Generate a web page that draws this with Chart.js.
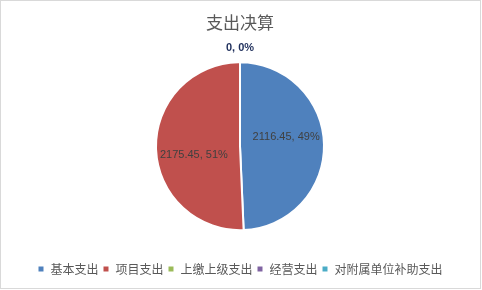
<!DOCTYPE html>
<html>
<head>
<meta charset="utf-8">
<script src="https://cdn.jsdelivr.net/npm/chart.js@4.4.1/dist/chart.umd.min.js"></script>
<style>
html,body{margin:0;padding:0;background:#fff;}
#wrap{width:482px;height:290px;position:relative;}
</style>
</head>
<body>
<div id="wrap"><canvas id="c" width="482" height="290"></canvas></div>
<script>
const categories = ['基本支出', '项目支出', '上缴上级支出', '经营支出', '对附属单位补助支出'];
const values = [2116.45, 2175.45, 0, 0, 0];
const percents = ['49%', '51%', '0%', '0%', '0%'];
const colors = ['#4F81BD', '#C0504D', '#9BBB59', '#8064A2', '#4BACC6'];
const titleText = '支出决算';

const CJK = '"Noto Sans CJK SC", "Microsoft YaHei", sans-serif';

const frame = {
  id: 'frame',
  beforeDraw(chart) {
    const ctx = chart.ctx;
    ctx.save();
    ctx.fillStyle = '#fff';
    ctx.fillRect(0, 0, chart.width, chart.height);
    ctx.strokeStyle = '#d9d9d9';
    ctx.lineWidth = 1;
    ctx.strokeRect(0.5, 0.5, chart.width - 2, chart.height - 2);
    ctx.restore();
  }
};

const labels = {
  id: 'sliceLabels',
  afterDatasetsDraw(chart) {
    const ctx = chart.ctx;
    const meta = chart.getDatasetMeta(0);
    ctx.save();
    ctx.textAlign = 'center';
    ctx.textBaseline = 'middle';
    meta.data.forEach((arc, i) => {
      const p = arc.getProps(['x', 'y', 'startAngle', 'endAngle', 'outerRadius'], true);
      const txt = values[i] + ', ' + percents[i];
      if (values[i] === 0) {
        const a = p.startAngle;
        const r = p.outerRadius + 14;
        ctx.font = 'bold 11px "Liberation Sans", Arial, sans-serif';
        ctx.fillStyle = '#1F2F5C';
        if (i === values.length - 1) ctx.fillText(txt, p.x + Math.cos(a) * r, p.y + Math.sin(a) * r);
      } else {
        const a = (p.startAngle + p.endAngle) / 2 - 10 * Math.PI / 180;
        const r = p.outerRadius * 0.56;
        ctx.font = '11px "Liberation Sans", Arial, sans-serif';
        ctx.fillStyle = '#404040';
        ctx.fillText(txt, p.x + Math.cos(a) * r, p.y + Math.sin(a) * r);
      }
    });
    ctx.restore();
  }
};

new Chart(document.getElementById('c'), {
  type: 'pie',
  data: {
    labels: categories,
    datasets: [{
      data: values,
      backgroundColor: colors,
      borderColor: '#ffffff',
      borderWidth: 2,
      radius: 84
    }]
  },
  options: {
    responsive: false,
    animation: false,
    layout: { padding: { left: 4, right: 6, top: 0, bottom: 5 } },
    plugins: {
      title: {
        display: true,
        text: titleText,
        color: '#595959',
        font: { family: CJK, size: 17, weight: 'normal' },
        padding: { top: 12, bottom: 1 }
      },
      legend: {
        position: 'bottom',
        labels: {
          color: '#595959',
          font: { family: CJK, size: 12 },
          boxWidth: 7,
          boxHeight: 7,
          padding: 4
        }
      },
      tooltip: { enabled: false }
    }
  },
  plugins: [frame, labels]
});
</script>
</body>
</html>
